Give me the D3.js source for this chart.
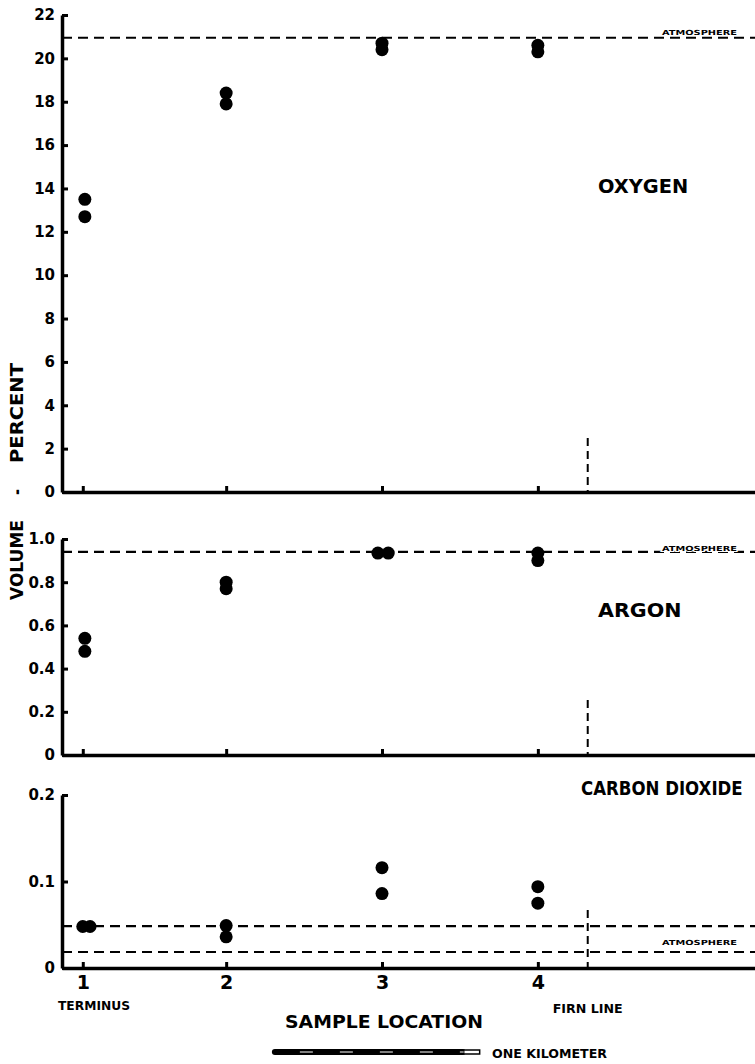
<!DOCTYPE html>
<html>
<head>
<meta charset="utf-8">
<script src="https://cdn.jsdelivr.net/npm/d3@7"></script>
<style>
body { margin: 0; background: #fff; }
text { font-family: "DejaVu Sans", sans-serif; font-weight: bold; fill: #000; }
</style>
</head>
<body>
<div class="svgContainer"></div>
<script>
// Statics
var LOCATIONS = ["1", "2", "3", "4"];
var LOCATION_KM = [0, 0.69, 1.44, 2.19];   // sample sites along the glacier
var FIRN_KM = 2.43;

// each sample: position (km) and volume percent
var OXYGEN_KM = [0.01, 0.01, 0.69, 0.69, 1.44, 1.44, 2.19, 2.19];
var OXYGEN_PCT = [13.5, 12.7, 18.4, 17.9, 20.7, 20.4, 20.6, 20.3];
var ARGON_KM = [0.01, 0.01, 0.69, 0.69, 1.42, 1.47, 2.19, 2.19];
var ARGON_PCT = [0.54, 0.48, 0.80, 0.77, 0.935, 0.935, 0.935, 0.90];
var CO2_KM = [0.0, 0.035, 0.69, 0.69, 1.44, 1.44, 2.19, 2.19];
var CO2_PCT = [0.048, 0.048, 0.049, 0.036, 0.116, 0.086, 0.094, 0.075];

// atmosphere reference levels
var OXYGEN_ATM = [20.95];
var ARGON_ATM = [0.94];
var CO2_ATM = [0.0485, 0.0185];

var OXYGEN_TICKS = [0, 2, 4, 6, 8, 10, 12, 14, 16, 18, 20, 22];
var OXYGEN_TICK_LABELS = ["0", "2", "4", "6", "8", "10", "12", "14", "16", "18", "20", "22"];
var ARGON_TICKS = [0, 0.2, 0.4, 0.6, 0.8, 1.0];
var ARGON_TICK_LABELS = ["0", "0.2", "0.4", "0.6", "0.8", "1.0"];
var CO2_TICKS = [0, 0.1, 0.2];
var CO2_TICK_LABELS = ["0", "0.1", "0.2"];
// End statics

var width = 755, height = 1064;

var svg = d3.select(".svgContainer").append("svg")
    .attr("width", width)
    .attr("height", height);

// x scale in kilometers along the glacier
var scaleX = d3.scaleLinear()
    .domain([-0.1, 3.235])
    .range([62, 755]);

// xScale: horizontal squeeze of the gas name
var panels = [
    {name: "OXYGEN", km: OXYGEN_KM, vals: OXYGEN_PCT, atm: OXYGEN_ATM, max: 22,
     ticks: OXYGEN_TICKS, tickLabels: OXYGEN_TICK_LABELS,
     top: 15, bottom: 492, labelX: 598, labelY: 193, squeeze: 0.97, atmY: 35, firnTop: 438},
    {name: "ARGON", km: ARGON_KM, vals: ARGON_PCT, atm: ARGON_ATM, max: 1.0,
     ticks: ARGON_TICKS, tickLabels: ARGON_TICK_LABELS,
     top: 539, bottom: 755, labelX: 598, labelY: 617, squeeze: 1.03, atmY: 551, firnTop: 700},
    {name: "CARBON DIOXIDE", km: CO2_KM, vals: CO2_PCT, atm: CO2_ATM, max: 0.2,
     ticks: CO2_TICKS, tickLabels: CO2_TICK_LABELS,
     top: 795, bottom: 968, labelX: 581, labelY: 795, squeeze: 0.83, atmY: 945, firnTop: 910}
];

panels.forEach(function(p, idx) {
    var scaleY = d3.scaleLinear()
        .domain([0, p.max])
        .range([p.bottom, p.top]);

    var g = svg.append("g");

    // atmosphere reference lines
    g.selectAll("line.atm")
        .data(p.atm)
        .enter().append("line")
        .attr("class", "atm")
        .attr("x1", scaleX.range()[0])
        .attr("x2", scaleX.range()[1])
        .attr("y1", function(d) { return scaleY(d); })
        .attr("y2", function(d) { return scaleY(d); })
        .attr("stroke", "#000")
        .attr("stroke-width", 2.2)
        .attr("stroke-dasharray", "10,6");

    g.append("text")
        .attr("x", 662)
        .attr("y", p.atmY)
        .attr("textLength", 75)
        .attr("lengthAdjust", "spacingAndGlyphs")
        .style("font-size", "7px")
        .style("paint-order", "stroke")
        .style("stroke", "#fff")
        .style("stroke-width", 2)
        .text("ATMOSPHERE");

    // firn line marker
    g.append("line")
        .attr("x1", scaleX(FIRN_KM))
        .attr("x2", scaleX(FIRN_KM))
        .attr("y1", p.firnTop)
        .attr("y2", p.bottom)
        .attr("stroke", "#000")
        .attr("stroke-width", 2)
        .attr("stroke-dasharray", "8,5");

    // y axis, ticks pointing into the plot
    var yAxis = d3.axisLeft(scaleY)
        .tickValues(p.ticks)
        .tickFormat(function(d, i) { return p.tickLabels[i]; })
        .tickSizeInner(-6)
        .tickSizeOuter(0)
        .tickPadding(7);

    var ya = g.append("g")
        .attr("transform", "translate(" + scaleX.range()[0] + ",0)")
        .call(yAxis);
    ya.select(".domain").attr("stroke-width", 3.5);
    ya.selectAll(".tick line").attr("stroke-width", 3);
    ya.selectAll(".tick text")
        .style("font-family", "'DejaVu Sans', sans-serif")
        .style("font-weight", "bold")
        .style("font-size", "15px");

    // x axis, small upward ticks at sample sites
    var xAxis = d3.axisBottom(scaleX)
        .tickValues(LOCATION_KM)
        .tickFormat(function(d, i) { return idx === panels.length - 1 ? LOCATIONS[i] : ""; })
        .tickSizeInner(-6)
        .tickSizeOuter(0)
        .tickPadding(8);

    var xa = g.append("g")
        .attr("transform", "translate(0," + p.bottom + ")")
        .call(xAxis);
    xa.select(".domain").attr("stroke-width", 3.5);
    xa.selectAll(".tick line").attr("stroke-width", 3);
    xa.selectAll(".tick text")
        .style("font-family", "'DejaVu Sans', sans-serif")
        .style("font-weight", "bold")
        .style("font-size", "19px");

    // samples
    g.selectAll("circle")
        .data(p.vals)
        .enter().append("circle")
        .attr("cx", function(d, i) { return scaleX(p.km[i]); })
        .attr("cy", function(d) { return scaleY(d); })
        .attr("r", 6.5)
        .attr("fill", "#000");

    // gas name
    g.append("text")
        .attr("transform", "translate(" + p.labelX + "," + p.labelY + ") scale(" + p.squeeze + ",1)")
        .style("font-size", "20px")
        .text(p.name);
});

// y axis title, in three pieces
function vtext(str, cy, len, size) {
    svg.append("text")
        .attr("transform", "translate(23," + cy + ") rotate(-90)")
        .attr("text-anchor", "middle")
        .attr("textLength", len)
        .attr("lengthAdjust", "spacingAndGlyphs")
        .style("font-size", size)
        .text(str);
}
vtext("VOLUME", 560, 80, "17px");
vtext("PERCENT", 413, 100, "17px");
vtext("-", 492, 6, "17px");

// bottom labels
svg.append("text").attr("x", 58).attr("y", 1010)
    .attr("textLength", 72).attr("lengthAdjust", "spacingAndGlyphs")
    .style("font-size", "12px").text("TERMINUS");
svg.append("text").attr("x", scaleX(FIRN_KM)).attr("y", 1013)
    .attr("text-anchor", "middle")
    .attr("textLength", 70).attr("lengthAdjust", "spacingAndGlyphs")
    .style("font-size", "12px").text("FIRN LINE");
svg.append("text").attr("x", 285).attr("y", 1028)
    .attr("textLength", 198).attr("lengthAdjust", "spacingAndGlyphs")
    .style("font-size", "17px").text("SAMPLE  LOCATION");

// one kilometer scale bar
var barStart = 0.91;
svg.append("rect")
    .attr("x", scaleX(barStart))
    .attr("y", 1049)
    .attr("width", scaleX(barStart + 1) - scaleX(barStart) - 14)
    .attr("height", 6)
    .attr("rx", 3)
    .attr("fill", "#000");
svg.append("rect")
    .attr("x", scaleX(barStart + 1) - 16)
    .attr("y", 1050)
    .attr("width", 16)
    .attr("height", 4)
    .attr("fill", "#fff")
    .attr("stroke", "#000")
    .attr("stroke-width", 1.5);
svg.append("line")
    .attr("x1", scaleX(barStart) + 28)
    .attr("x2", scaleX(barStart + 1) - 16)
    .attr("y1", 1052)
    .attr("y2", 1052)
    .attr("stroke", "#fff")
    .attr("stroke-width", 1.2)
    .attr("stroke-dasharray", "13,27");
svg.append("text").attr("x", 492).attr("y", 1058)
    .attr("textLength", 115).attr("lengthAdjust", "spacingAndGlyphs")
    .style("font-size", "12px").text("ONE KILOMETER");
</script>
</body>
</html>
